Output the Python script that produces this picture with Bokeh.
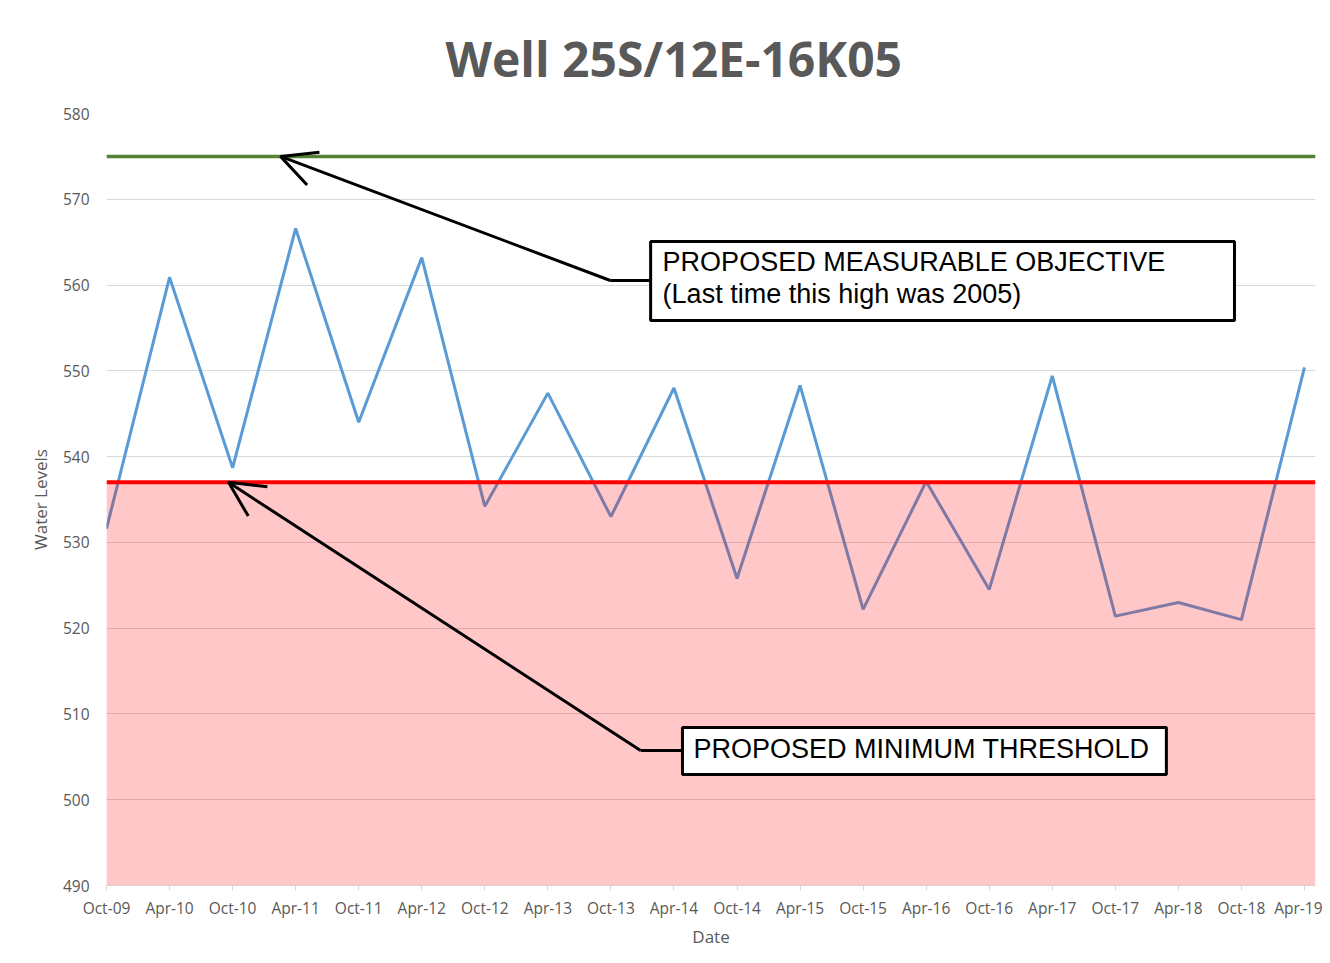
from bokeh.plotting import figure
from bokeh.models import (FixedTicker, BoxAnnotation, Span, Arrow, OpenHead, Label)
from bokeh.embed import file_html
from bokeh.resources import INLINE

# ---- data ----
dates = ["Oct-09", "Apr-10", "Oct-10", "Apr-11", "Oct-11", "Apr-12", "Oct-12", "Apr-13",
         "Oct-13", "Apr-14", "Oct-14", "Apr-15", "Oct-15", "Apr-16", "Oct-16", "Apr-17",
         "Oct-17", "Apr-18", "Oct-18", "Apr-19"]
levels = [531.6, 560.9, 538.7, 566.6, 544.0, 563.2, 534.2, 547.4, 533.0, 548.0,
          525.8, 548.3, 522.2, 537.1, 524.5, 549.4, 521.4, 523.0, 521.0, 550.4]
objective = 575.0
threshold = 537.0
y_ticks = [490, 500, 510, 520, 530, 540, 550, 560, 570, 580]

xs = list(range(len(dates)))
GRAY = "#595959"

p = figure(width=1322, height=955, output_backend="svg", toolbar_location=None,
           x_range=(0, 19.175), y_range=(490, 580),
           min_border_left=106, min_border_right=7, min_border_top=113, min_border_bottom=70)
p.outline_line_color = None
p.background_fill_color = "white"

p.title.text = "Well 25S/12E-16K05"
p.title.align = "left"
p.title.offset = 339
p.title.standoff = 45
p.title.text_font = "Open Sans"
p.title.text_font_size = "48px"
p.title.text_font_style = "bold"
p.title.text_color = GRAY

# axes
p.xaxis.ticker = FixedTicker(ticks=xs)
p.xaxis.major_label_overrides = {i: d for i, d in enumerate(dates)}
p.xaxis.axis_line_color = "#d9d9d9"
p.xaxis.major_tick_line_color = "#d9d9d9"
p.xaxis.major_tick_in = 0
p.xaxis.major_tick_out = 5
p.xaxis.minor_tick_line_color = None
p.xaxis.major_label_standoff = 6
p.xaxis.axis_label = "Date"
p.xaxis.axis_label_standoff = 3

p.yaxis.ticker = FixedTicker(ticks=y_ticks)
p.yaxis.axis_line_color = None
p.yaxis.major_tick_line_color = None
p.yaxis.minor_tick_line_color = None
p.yaxis.major_label_standoff = 11
p.yaxis.axis_label = "Water Levels"
p.yaxis.axis_label_standoff = 8

for ax in (p.xaxis, p.yaxis):
    ax.major_label_text_font = "Open Sans"
    ax.major_label_text_font_size = "15.5px"
    ax.major_label_text_color = GRAY
    ax.axis_label_text_font = "Open Sans"
    ax.axis_label_text_font_size = "17px"
    ax.axis_label_text_font_style = "normal"
    ax.axis_label_text_color = GRAY

p.xgrid.grid_line_color = None
p.ygrid.grid_line_color = "#d9d9d9"
p.ygrid.grid_line_width = 1

# data line
p.line(xs, levels, line_color="#5b9bd5", line_width=3)

# shaded zone below minimum threshold
p.add_layout(BoxAnnotation(bottom=490, top=threshold, fill_color="#ff0000",
                           fill_alpha=0.22, line_color=None))
p.add_layout(Span(location=threshold, dimension="width", line_color="#ff0000", line_width=4))
p.add_layout(Span(location=objective, dimension="width", line_color="#548235", line_width=3.5))

# arrows
p.add_layout(Arrow(end=OpenHead(size=35, line_width=3, line_color="black"),
                   x_start=7.99, y_start=560.53, x_end=2.76, y_end=objective,
                   line_width=3, line_color="black"))
p.add_layout(Arrow(end=None, x_start=8.70, y_start=560.53, x_end=7.99, y_end=560.53,
                   line_width=3, line_color="black"))
p.add_layout(Arrow(end=OpenHead(size=35, line_width=3, line_color="black"),
                   x_start=8.47, y_start=505.74, x_end=1.935, y_end=threshold,
                   line_width=3, line_color="black"))
p.add_layout(Arrow(end=None, x_start=9.2, y_start=505.74, x_end=8.47, y_end=505.74,
                   line_width=3, line_color="black"))

# callout boxes
p.add_layout(BoxAnnotation(left=8.63, right=17.89, bottom=555.87, top=565.08,
                           fill_color="white", fill_alpha=1, line_color="black",
                           line_alpha=1, line_width=3, level="overlay"))
p.add_layout(BoxAnnotation(left=9.135, right=16.81, bottom=502.94, top=508.42,
                           fill_color="white", fill_alpha=1, line_color="black",
                           line_alpha=1, line_width=3, level="overlay"))

def lab(x, y, t, size="27px", font="Liberation Sans", color="black"):
    p.add_layout(Label(x=x, y=y, text=t, text_font=font, text_font_size=size,
                       text_color=color, text_align="left",
                       text_baseline="middle", level="overlay"))

lab(8.82, 562.63, "PROPOSED MEASURABLE OBJECTIVE")
lab(8.82, 558.90, "(Last time this high was 2005)")
lab(9.31, 505.86, "PROPOSED MINIMUM THRESHOLD")

open("out.html", "w").write(file_html(p, INLINE))
